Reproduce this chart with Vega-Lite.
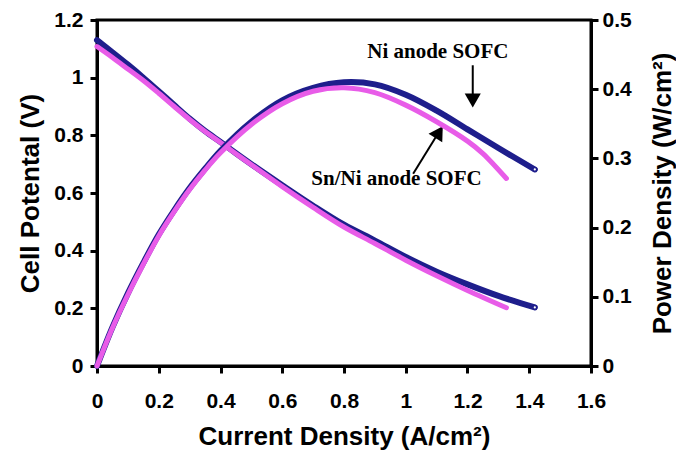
{
  "$schema": "https://vega.github.io/schema/vega-lite/v6.json",
  "width": 494,
  "height": 346,
  "autosize": "none",
  "padding": {"left": 97, "top": 20, "right": 85, "bottom": 88},
  "background": "white",
  "config": {
    "view": {"stroke": "black", "strokeWidth": 3},
    "axis": {
      "grid": false,
      "domainColor": "black",
      "domainWidth": 3,
      "tickColor": "black",
      "tickWidth": 3,
      "tickSize": 7,
      "labelFont": "Liberation Sans",
      "labelFontWeight": "bold",
      "labelFontSize": 21,
      "labelColor": "black",
      "labelFlush": false,
      "labelOverlap": false,
      "labelBound": false,
      "titleFont": "Liberation Sans",
      "titleFontWeight": "bold",
      "titleFontSize": 26,
      "titleColor": "black"
    }
  },
  "datasets": {
    "volt": [
      {"series": "Ni", "I": 0, "V": 1.13},
      {"series": "Ni", "I": 0.05, "V": 1.088},
      {"series": "Ni", "I": 0.1, "V": 1.045},
      {"series": "Ni", "I": 0.15, "V": 1.0},
      {"series": "Ni", "I": 0.2, "V": 0.953},
      {"series": "Ni", "I": 0.25, "V": 0.905},
      {"series": "Ni", "I": 0.3, "V": 0.858},
      {"series": "Ni", "I": 0.35, "V": 0.815},
      {"series": "Ni", "I": 0.4, "V": 0.777},
      {"series": "Ni", "I": 0.45, "V": 0.738},
      {"series": "Ni", "I": 0.5, "V": 0.70},
      {"series": "Ni", "I": 0.6, "V": 0.627},
      {"series": "Ni", "I": 0.7, "V": 0.556},
      {"series": "Ni", "I": 0.8, "V": 0.49},
      {"series": "Ni", "I": 0.9, "V": 0.435},
      {"series": "Ni", "I": 1.0, "V": 0.378},
      {"series": "Ni", "I": 1.1, "V": 0.327},
      {"series": "Ni", "I": 1.2, "V": 0.283},
      {"series": "Ni", "I": 1.3, "V": 0.243},
      {"series": "Ni", "I": 1.418, "V": 0.203},
      {"series": "SnNi", "I": 0, "V": 1.108},
      {"series": "SnNi", "I": 0.05, "V": 1.07},
      {"series": "SnNi", "I": 0.1, "V": 1.03},
      {"series": "SnNi", "I": 0.15, "V": 0.99},
      {"series": "SnNi", "I": 0.2, "V": 0.946},
      {"series": "SnNi", "I": 0.25, "V": 0.9},
      {"series": "SnNi", "I": 0.3, "V": 0.855},
      {"series": "SnNi", "I": 0.35, "V": 0.813},
      {"series": "SnNi", "I": 0.4, "V": 0.775},
      {"series": "SnNi", "I": 0.45, "V": 0.736},
      {"series": "SnNi", "I": 0.5, "V": 0.698},
      {"series": "SnNi", "I": 0.6, "V": 0.622},
      {"series": "SnNi", "I": 0.7, "V": 0.55},
      {"series": "SnNi", "I": 0.8, "V": 0.482},
      {"series": "SnNi", "I": 0.9, "V": 0.425},
      {"series": "SnNi", "I": 1.0, "V": 0.367},
      {"series": "SnNi", "I": 1.1, "V": 0.313},
      {"series": "SnNi", "I": 1.2, "V": 0.262},
      {"series": "SnNi", "I": 1.326, "V": 0.202}
    ],
    "power": [
      {"series": "Ni", "I": 0, "P": 0},
      {"series": "Ni", "I": 0.05, "P": 0.056},
      {"series": "Ni", "I": 0.1, "P": 0.105},
      {"series": "Ni", "I": 0.15, "P": 0.149},
      {"series": "Ni", "I": 0.2, "P": 0.19},
      {"series": "Ni", "I": 0.25, "P": 0.225},
      {"series": "Ni", "I": 0.3, "P": 0.257},
      {"series": "Ni", "I": 0.35, "P": 0.285},
      {"series": "Ni", "I": 0.4, "P": 0.311},
      {"series": "Ni", "I": 0.5, "P": 0.353},
      {"series": "Ni", "I": 0.6, "P": 0.384},
      {"series": "Ni", "I": 0.7, "P": 0.402},
      {"series": "Ni", "I": 0.8, "P": 0.41},
      {"series": "Ni", "I": 0.9, "P": 0.407},
      {"series": "Ni", "I": 1.0, "P": 0.392},
      {"series": "Ni", "I": 1.1, "P": 0.369},
      {"series": "Ni", "I": 1.2, "P": 0.342},
      {"series": "Ni", "I": 1.3, "P": 0.315},
      {"series": "Ni", "I": 1.418, "P": 0.284},
      {"series": "SnNi", "I": 0, "P": 0},
      {"series": "SnNi", "I": 0.05, "P": 0.055},
      {"series": "SnNi", "I": 0.1, "P": 0.103},
      {"series": "SnNi", "I": 0.15, "P": 0.147},
      {"series": "SnNi", "I": 0.2, "P": 0.188},
      {"series": "SnNi", "I": 0.25, "P": 0.223},
      {"series": "SnNi", "I": 0.3, "P": 0.255},
      {"series": "SnNi", "I": 0.35, "P": 0.283},
      {"series": "SnNi", "I": 0.4, "P": 0.308},
      {"series": "SnNi", "I": 0.5, "P": 0.349},
      {"series": "SnNi", "I": 0.6, "P": 0.379},
      {"series": "SnNi", "I": 0.7, "P": 0.397},
      {"series": "SnNi", "I": 0.8, "P": 0.402},
      {"series": "SnNi", "I": 0.9, "P": 0.395},
      {"series": "SnNi", "I": 1.0, "P": 0.377},
      {"series": "SnNi", "I": 1.1, "P": 0.353},
      {"series": "SnNi", "I": 1.2, "P": 0.325},
      {"series": "SnNi", "I": 1.25, "P": 0.307},
      {"series": "SnNi", "I": 1.326, "P": 0.271}
    ],
    "annot": [
      {"label": "Ni anode SOFC", "I": 1.104, "V": 1.088},
      {"label": "Sn/Ni anode SOFC", "I": 0.97, "V": 0.648}
    ],
    "arrows": [
      {"arrow": "Ni", "I": 1.217, "V": 1.043, "I2": 1.217, "V2": 0.93},
      {"arrow": "SnNi", "I": 1.024, "V": 0.667, "I2": 1.101, "V2": 0.8}
    ],
    "heads": [
      {"arrow": "Ni", "I": 1.217, "V": 0.921, "shape": "triangle-down", "rot": 0},
      {"arrow": "SnNi", "I": 1.108, "V": 0.811, "shape": "triangle-up", "rot": 32}
    ]
  },
  "layer": [
    {
      "layer": [
        {
          "data": {"name": "volt"},
          "transform": [{"filter": "datum.series === 'Ni'"}],
          "mark": {"type": "line", "color": "#1e1e8c", "strokeWidth": 6, "strokeCap": "round", "interpolate": "catmull-rom"},
          "encoding": {
            "x": {
              "field": "I", "type": "quantitative",
              "scale": {"domain": [0, 1.6], "nice": false, "zero": false},
              "axis": {"values": [0, 0.2, 0.4, 0.6, 0.8, 1, 1.2, 1.4, 1.6], "format": "~g", "labelPadding": 17, "titlePadding": 12, "title": "Current Density (A/cm²)"}
            },
            "y": {
              "field": "V", "type": "quantitative",
              "scale": {"domain": [0, 1.2], "nice": false, "zero": false},
              "axis": {"values": [0, 0.2, 0.4, 0.6, 0.8, 1, 1.2], "format": "~g", "labelPadding": 7, "titlePadding": 10, "title": "Cell Potental (V)"}
            }
          }
        },
        {
          "data": {"name": "volt"},
          "transform": [{"filter": "datum.series === 'SnNi'"}],
          "mark": {"type": "line", "color": "#e85ce8", "strokeWidth": 5, "strokeCap": "round", "interpolate": "catmull-rom"},
          "encoding": {
            "x": {"field": "I", "type": "quantitative"},
            "y": {"field": "V", "type": "quantitative"}
          }
        },
        {
          "data": {"name": "volt"},
          "transform": [{"filter": "datum.series === 'Ni' && datum.I > 1.41"}],
          "mark": {"type": "point", "filled": true, "fill": "white", "stroke": "#1e1e8c", "strokeWidth": 1.5, "size": 14, "opacity": 1},
          "encoding": {
            "x": {"field": "I", "type": "quantitative"},
            "y": {"field": "V", "type": "quantitative"}
          }
        },
        {
          "data": {"name": "annot"},
          "mark": {"type": "text", "font": "Liberation Serif", "fontWeight": "bold", "fontSize": 21, "color": "black", "baseline": "middle", "align": "center"},
          "encoding": {
            "x": {"field": "I", "type": "quantitative"},
            "y": {"field": "V", "type": "quantitative"},
            "text": {"field": "label"}
          }
        },
        {
          "data": {"name": "arrows"},
          "mark": {"type": "rule", "color": "black", "strokeWidth": 2},
          "encoding": {
            "x": {"field": "I", "type": "quantitative"},
            "y": {"field": "V", "type": "quantitative"},
            "x2": {"field": "I2"},
            "y2": {"field": "V2"}
          }
        },
        {
          "data": {"name": "heads"},
          "mark": {"type": "point", "filled": true, "color": "black", "size": 260, "opacity": 1},
          "encoding": {
            "x": {"field": "I", "type": "quantitative"},
            "y": {"field": "V", "type": "quantitative"},
            "shape": {"field": "shape", "type": "nominal", "scale": null},
            "angle": {"field": "rot", "type": "quantitative", "scale": null}
          }
        }
      ]
    },
    {
      "layer": [
        {
          "data": {"name": "power"},
          "transform": [{"filter": "datum.series === 'Ni'"}],
          "mark": {"type": "line", "color": "#1e1e8c", "strokeWidth": 6, "strokeCap": "round", "interpolate": "catmull-rom"},
          "encoding": {
            "x": {"field": "I", "type": "quantitative"},
            "y": {
              "field": "P", "type": "quantitative",
              "scale": {"domain": [0, 0.5], "nice": false, "zero": false},
              "axis": {"orient": "right", "values": [0, 0.1, 0.2, 0.3, 0.4, 0.5], "format": "~g", "labelPadding": 4, "titlePadding": 18, "titleAngle": -90, "titleBaseline": "top", "title": "Power Density (W/cm²)"}
            }
          }
        },
        {
          "data": {"name": "power"},
          "transform": [{"filter": "datum.series === 'SnNi'"}],
          "mark": {"type": "line", "color": "#e85ce8", "strokeWidth": 5, "strokeCap": "round", "interpolate": "catmull-rom"},
          "encoding": {
            "x": {"field": "I", "type": "quantitative"},
            "y": {"field": "P", "type": "quantitative"}
          }
        },
        {
          "data": {"name": "power"},
          "transform": [{"filter": "datum.series === 'Ni' && datum.I > 1.41"}],
          "mark": {"type": "point", "filled": true, "fill": "white", "stroke": "#1e1e8c", "strokeWidth": 1.5, "size": 14, "opacity": 1},
          "encoding": {
            "x": {"field": "I", "type": "quantitative"},
            "y": {"field": "P", "type": "quantitative"}
          }
        }
      ]
    }
  ],
  "resolve": {"scale": {"y": "independent"}}
}
